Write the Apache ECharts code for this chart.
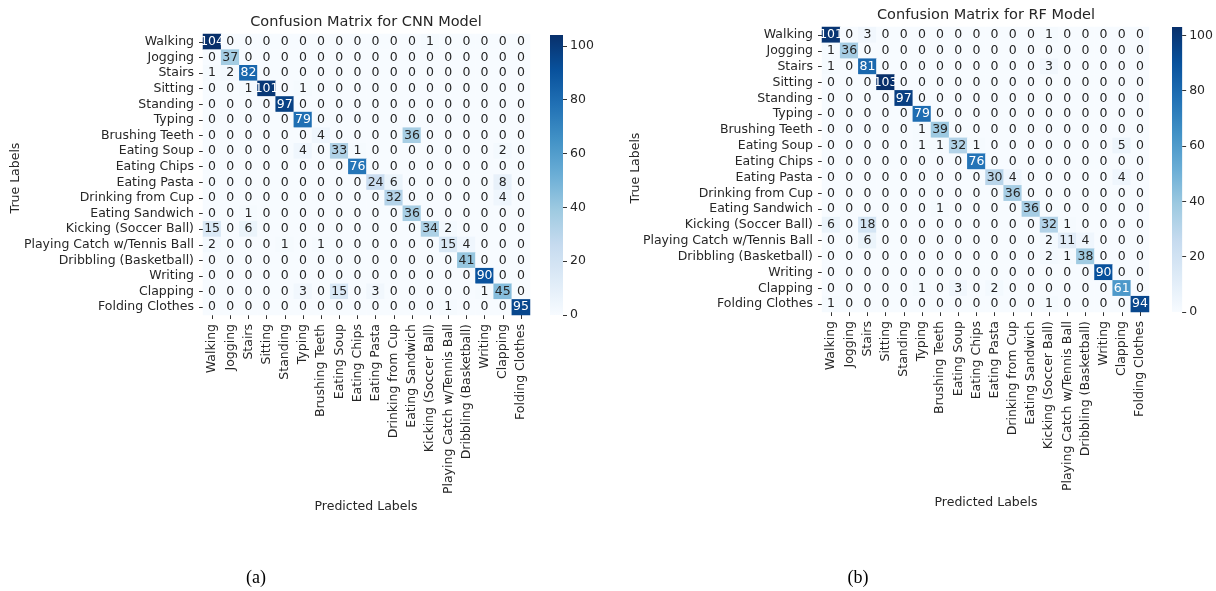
<!DOCTYPE html>
<html>
<head>
<meta charset="utf-8">
<script src="https://cdn.jsdelivr.net/npm/echarts@6/dist/echarts.min.js"></script>
<style>
  html, body { margin: 0; padding: 0; background: #fff; }
  #chart { width: 1216px; height: 591px; }
</style>
</head>
<body>
<div id="chart"></div>
<script>
var labels = ['Walking', 'Jogging', 'Stairs', 'Sitting', 'Standing', 'Typing', 'Brushing Teeth',
  'Eating Soup', 'Eating Chips', 'Eating Pasta', 'Drinking from Cup', 'Eating Sandwich',
  'Kicking (Soccer Ball)', 'Playing Catch w/Tennis Ball', 'Dribbling (Basketball)',
  'Writing', 'Clapping', 'Folding Clothes'];

// rows = true label, columns = predicted label
var cnnMatrix = [
  [104,0,0,0,0,0,0,0,0,0,0,0,1,0,0,0,0,0],
  [0,37,0,0,0,0,0,0,0,0,0,0,0,0,0,0,0,0],
  [1,2,82,0,0,0,0,0,0,0,0,0,0,0,0,0,0,0],
  [0,0,1,101,0,1,0,0,0,0,0,0,0,0,0,0,0,0],
  [0,0,0,0,97,0,0,0,0,0,0,0,0,0,0,0,0,0],
  [0,0,0,0,0,79,0,0,0,0,0,0,0,0,0,0,0,0],
  [0,0,0,0,0,0,4,0,0,0,0,36,0,0,0,0,0,0],
  [0,0,0,0,0,4,0,33,1,0,0,0,0,0,0,0,2,0],
  [0,0,0,0,0,0,0,0,76,0,0,0,0,0,0,0,0,0],
  [0,0,0,0,0,0,0,0,0,24,6,0,0,0,0,0,8,0],
  [0,0,0,0,0,0,0,0,0,0,32,0,0,0,0,0,4,0],
  [0,0,1,0,0,0,0,0,0,0,0,36,0,0,0,0,0,0],
  [15,0,6,0,0,0,0,0,0,0,0,0,34,2,0,0,0,0],
  [2,0,0,0,1,0,1,0,0,0,0,0,0,15,4,0,0,0],
  [0,0,0,0,0,0,0,0,0,0,0,0,0,0,41,0,0,0],
  [0,0,0,0,0,0,0,0,0,0,0,0,0,0,0,90,0,0],
  [0,0,0,0,0,3,0,15,0,3,0,0,0,0,0,1,45,0],
  [0,0,0,0,0,0,0,0,0,0,0,0,0,1,0,0,0,95]
];

var rfMatrix = [
  [101,0,3,0,0,0,0,0,0,0,0,0,1,0,0,0,0,0],
  [1,36,0,0,0,0,0,0,0,0,0,0,0,0,0,0,0,0],
  [1,0,81,0,0,0,0,0,0,0,0,0,3,0,0,0,0,0],
  [0,0,0,103,0,0,0,0,0,0,0,0,0,0,0,0,0,0],
  [0,0,0,0,97,0,0,0,0,0,0,0,0,0,0,0,0,0],
  [0,0,0,0,0,79,0,0,0,0,0,0,0,0,0,0,0,0],
  [0,0,0,0,0,1,39,0,0,0,0,0,0,0,0,0,0,0],
  [0,0,0,0,0,1,1,32,1,0,0,0,0,0,0,0,5,0],
  [0,0,0,0,0,0,0,0,76,0,0,0,0,0,0,0,0,0],
  [0,0,0,0,0,0,0,0,0,30,4,0,0,0,0,0,4,0],
  [0,0,0,0,0,0,0,0,0,0,36,0,0,0,0,0,0,0],
  [0,0,0,0,0,0,1,0,0,0,0,36,0,0,0,0,0,0],
  [6,0,18,0,0,0,0,0,0,0,0,0,32,1,0,0,0,0],
  [0,0,6,0,0,0,0,0,0,0,0,0,2,11,4,0,0,0],
  [0,0,0,0,0,0,0,0,0,0,0,0,2,1,38,0,0,0],
  [0,0,0,0,0,0,0,0,0,0,0,0,0,0,0,90,0,0],
  [0,0,0,0,0,1,0,3,0,2,0,0,0,0,0,0,61,0],
  [1,0,0,0,0,0,0,0,0,0,0,0,1,0,0,0,0,94]
];

var cbarTicks = [0, 20, 40, 60, 80, 100];
var blues = ['#f7fbff', '#deebf7', '#c6dbef', '#9ecae1', '#6baed6', '#4292c6', '#2171b5', '#08519c', '#08306b'];

var font = 'DejaVu Sans';
var textColor = '#262626';

function matMax(m) {
  var mx = 0;
  m.forEach(function (r) { r.forEach(function (v) { if (v > mx) mx = v; }); });
  return mx;
}

function cells(m) {
  var mx = matMax(m);
  var out = [];
  m.forEach(function (row, i) {
    row.forEach(function (v, j) {
      out.push({ value: [j, i, v], label: { color: v / mx > 0.47 ? '#fff' : textColor } });
    });
  });
  return out;
}

var gradient = new echarts.graphic.LinearGradient(0, 0, 0, 1,
  blues.slice().reverse().map(function (c, i) { return { offset: i / (blues.length - 1), color: c }; }));

var cnnMax = matMax(cnnMatrix);
var rfMax = matMax(rfMatrix);

function heatX(gi) {
  return {
    type: 'category', gridIndex: gi, data: labels,
    axisLine: { show: false },
    axisTick: { show: true, alignWithLabel: true, length: 4, lineStyle: { color: '#333' } },
    axisLabel: { rotate: 90, margin: 9, fontFamily: font, fontSize: 12.5, color: textColor, interval: 0 },
    splitArea: { show: false }
  };
}
function heatY(gi) {
  return {
    type: 'category', gridIndex: gi, data: labels, inverse: true,
    axisLine: { show: false },
    axisTick: { show: true, alignWithLabel: true, length: 4, lineStyle: { color: '#333' } },
    axisLabel: { margin: 9, fontFamily: font, fontSize: 12.5, color: textColor, interval: 0 },
    splitArea: { show: false }
  };
}
function cbarX(gi) {
  return { type: 'category', gridIndex: gi, data: [''], show: false };
}
function cbarY(gi, mx) {
  return {
    type: 'value', gridIndex: gi, min: 0, max: mx, position: 'right',
    axisLine: { show: false },
    splitLine: { show: false },
    axisTick: { show: true, length: 4, customValues: cbarTicks, lineStyle: { color: '#333' } },
    axisLabel: { margin: 7, fontFamily: font, fontSize: 12.5, color: textColor, customValues: cbarTicks }
  };
}

var heatLabel = { show: true, fontFamily: font, fontSize: 12.5 };

var chart = echarts.init(document.getElementById('chart'));
chart.setOption({
  animation: false,
  backgroundColor: '#fff',
  grid: [
    { left: 203, top: 34, width: 327, height: 281 },
    { left: 550, top: 35, width: 13, height: 280 },
    { left: 822, top: 27, width: 327, height: 285 },
    { left: 1172, top: 27, width: 13, height: 285 }
  ],
  xAxis: [heatX(0), cbarX(1), heatX(2), cbarX(3)],
  yAxis: [heatY(0), cbarY(1, cnnMax), heatY(2), cbarY(3, rfMax)],
  visualMap: [
    { show: false, seriesIndex: 0, min: 0, max: cnnMax, inRange: { color: blues } },
    { show: false, seriesIndex: 2, min: 0, max: rfMax, inRange: { color: blues } }
  ],
  series: [
    { type: 'heatmap', xAxisIndex: 0, yAxisIndex: 0, data: cells(cnnMatrix), label: heatLabel, emphasis: { disabled: true } },
    { type: 'bar', xAxisIndex: 1, yAxisIndex: 1, data: [cnnMax], barWidth: '100%', itemStyle: { color: gradient }, silent: true },
    { type: 'heatmap', xAxisIndex: 2, yAxisIndex: 2, data: cells(rfMatrix), label: heatLabel, emphasis: { disabled: true } },
    { type: 'bar', xAxisIndex: 3, yAxisIndex: 3, data: [rfMax], barWidth: '100%', itemStyle: { color: gradient }, silent: true }
  ],
  graphic: [
    { type: 'text', x: 366, y: 22, style: { text: 'Confusion Matrix for CNN Model', font: '14.5px "DejaVu Sans"', fill: textColor, align: 'center', verticalAlign: 'middle' } },
    { type: 'text', x: 986, y: 15, style: { text: 'Confusion Matrix for RF Model', font: '14.5px "DejaVu Sans"', fill: textColor, align: 'center', verticalAlign: 'middle' } },
    { type: 'text', x: 366, y: 507, style: { text: 'Predicted Labels', font: '12.5px "DejaVu Sans"', fill: textColor, align: 'center', verticalAlign: 'middle' } },
    { type: 'text', x: 986, y: 503, style: { text: 'Predicted Labels', font: '12.5px "DejaVu Sans"', fill: textColor, align: 'center', verticalAlign: 'middle' } },
    { type: 'text', x: 16, y: 178, rotation: Math.PI / 2, style: { text: 'True Labels', font: '12.5px "DejaVu Sans"', fill: textColor, align: 'center', verticalAlign: 'middle' } },
    { type: 'text', x: 636, y: 168, rotation: Math.PI / 2, style: { text: 'True Labels', font: '12.5px "DejaVu Sans"', fill: textColor, align: 'center', verticalAlign: 'middle' } },
    { type: 'text', x: 256, y: 578, style: { text: '(a)', font: '18px "Liberation Serif"', fill: '#000', align: 'center', verticalAlign: 'middle' } },
    { type: 'text', x: 858, y: 578, style: { text: '(b)', font: '18px "Liberation Serif"', fill: '#000', align: 'center', verticalAlign: 'middle' } }
  ]
});
</script>
</body>
</html>
